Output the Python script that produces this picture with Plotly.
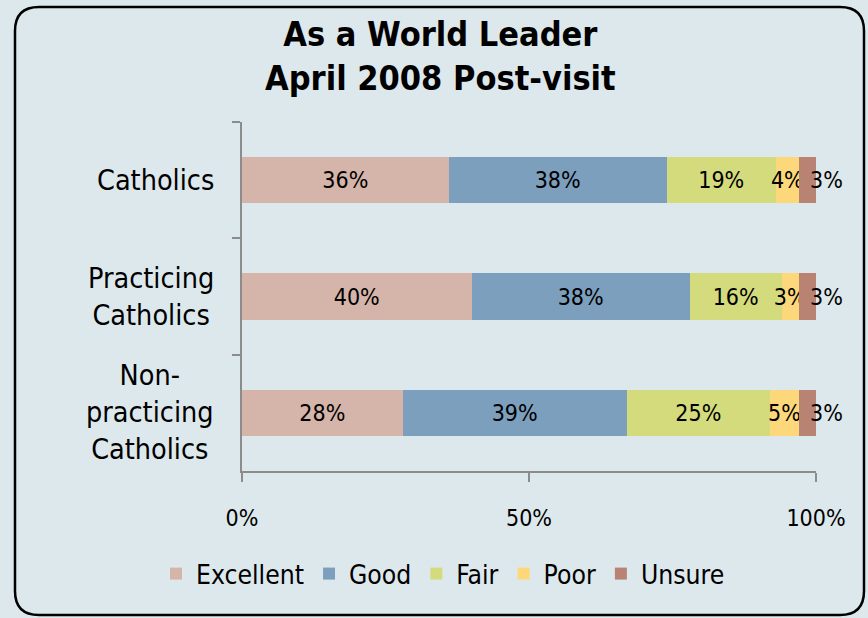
import plotly.graph_objects as go

categories = ["Catholics", "Practicing<br>Catholics", "Non-<br>practicing<br>Catholics"]
series_names = ["Excellent", "Good", "Fair", "Poor", "Unsure"]
excellent = [36, 40, 28]
good = [38, 38, 39]
fair = [19, 16, 25]
poor = [4, 3, 5]
unsure = [3, 3, 3]
x_tick_vals = [0, 50, 100]
x_tick_text = ["0%", "50%", "100%"]
title_lines = ["As a World Leader", "April 2008 Post-visit"]

colors = ["#D5B4A9", "#7B9FBD", "#D4DB7D", "#FCD87A", "#B88372"]
BG = "#DDE8EC"
FONT = "DejaVu Sans Condensed"

W, H = 868, 618
ML, MR, MT, MB = 242, 52, 122, 147
PW, PH = W - ML - MR, H - MT - MB

fig = go.Figure()
all_series = [excellent, good, fair, poor, unsure]
for i, (name, vals) in enumerate(zip(series_names, all_series)):
    last = i == len(series_names) - 1
    fig.add_trace(go.Bar(
        y=categories, x=vals, name=name, orientation="h",
        marker=dict(color=colors[i], line=dict(width=0)),
        text=None if last else [f"{v}%" for v in vals],
        textposition="none" if last else "inside",
        insidetextanchor="middle",
        textangle=0,
        textfont=dict(family=FONT, size=23, color="black"),
        cliponaxis=False,
        hoverinfo="skip",
    ))

# labels of the last (Unsure) segment, placed at the end of each stacked bar
totals = [sum(s[k] for s in all_series) for k in range(len(categories))]
for c, tot, v in zip(categories, totals, unsure):
    fig.add_annotation(
        x=tot, xref="x", y=c, yref="y", text=f"{v}%", showarrow=False,
        xanchor="center", yanchor="middle", xshift=10,
        font=dict(family=FONT, size=23, color="black"),
    )

for c in categories:
    fig.add_annotation(
        x=0, xref="paper", y=c, yref="y", text=c, showarrow=False,
        xanchor="right", yanchor="middle", align="center", xshift=-26,
        font=dict(family=FONT, size=28.5, color="black"),
    )

def px(x):
    return (x - ML) / PW

def py(y):
    return (H - MB - y) / PH

fig.add_annotation(
    x=px(440), xref="paper", y=py(12), yref="paper",
    text="<b>" + "<br>".join(title_lines) + "</b>", showarrow=False,
    xanchor="center", yanchor="top", align="center",
    font=dict(family=FONT, size=34, color="black"),
)

x0, x1, y0, y1, r = 15, 864, 7, 615, 24
path = (
    f"M {px(x0 + r)},{py(y0)} L {px(x1 - r)},{py(y0)} "
    f"Q {px(x1)},{py(y0)} {px(x1)},{py(y0 + r)} "
    f"L {px(x1)},{py(y1 - r)} Q {px(x1)},{py(y1)} {px(x1 - r)},{py(y1)} "
    f"L {px(x0 + r)},{py(y1)} Q {px(x0)},{py(y1)} {px(x0)},{py(y1 - r)} "
    f"L {px(x0)},{py(y0 + r)} Q {px(x0)},{py(y0)} {px(x0 + r)},{py(y0)} Z"
)
fig.add_shape(type="path", path=path, xref="paper", yref="paper",
              line=dict(color="black", width=2.5), fillcolor="rgba(0,0,0,0)",
              layer="below")

fig.update_layout(
    width=W, height=H,
    margin=dict(l=ML, r=MR, t=MT, b=MB, autoexpand=False),
    paper_bgcolor=BG, plot_bgcolor=BG,
    barmode="stack", barnorm="percent", bargap=0.6,
    uniformtext=dict(minsize=23, mode="show"),
    showlegend=True,
    legend=dict(orientation="h", xref="container", x=443 / W, xanchor="center",
                yref="container", y=1 - 574 / H, yanchor="middle",
                font=dict(family=FONT, size=26.3, color="black"),
                itemwidth=30, traceorder="normal", bgcolor="rgba(0,0,0,0)"),
    xaxis=dict(range=[0, 100], tickvals=x_tick_vals, ticktext=x_tick_text,
               showgrid=False, zeroline=False, showline=True,
               linecolor="#8C8C8C", linewidth=2, ticks="outside", ticklen=9,
               tickcolor="#8C8C8C", tickwidth=2, ticklabelstandoff=16,
               tickfont=dict(family=FONT, size=23, color="black")),
    yaxis=dict(autorange="reversed", showgrid=False, zeroline=False,
               showline=True, linecolor="#8C8C8C", linewidth=2,
               ticks="outside", ticklen=8, tickcolor="#8C8C8C", tickwidth=2,
               tickson="boundaries", showticklabels=False),
)

fig.write_html(
    "out.html",
    config={"displayModeBar": False},
    post_script="document.body.style.margin='0';document.body.style.overflow='hidden';",
)
